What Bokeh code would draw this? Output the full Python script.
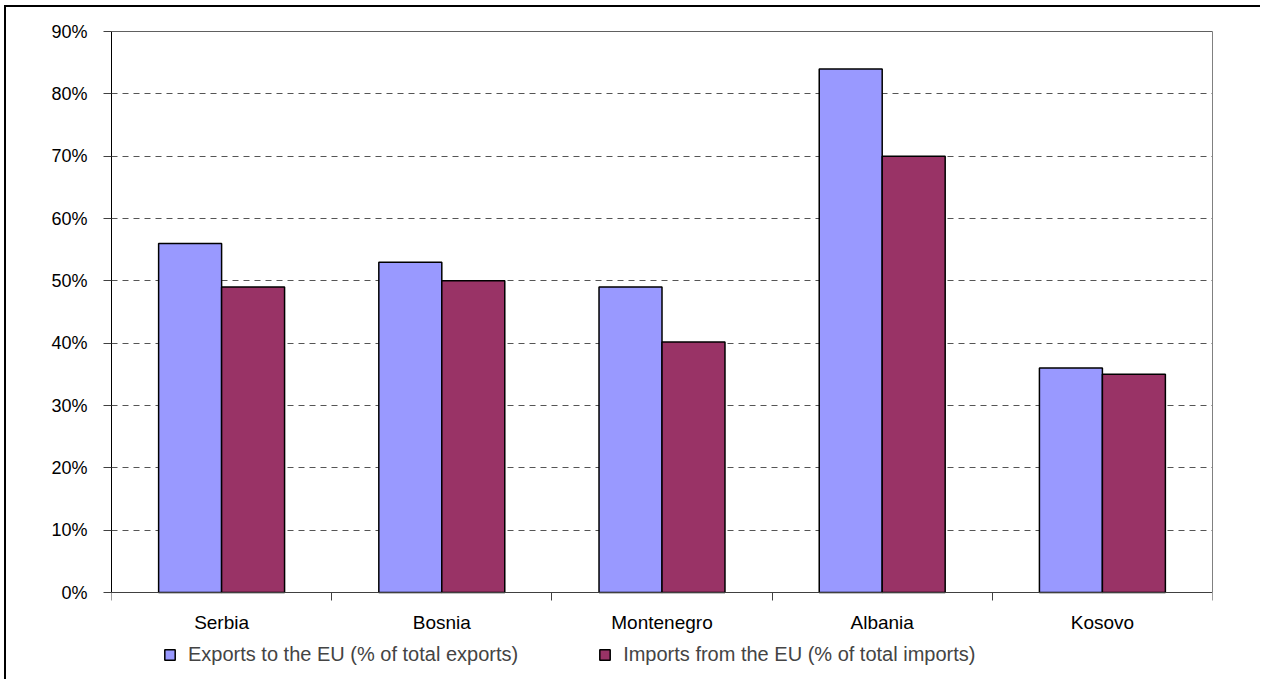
from bokeh.plotting import figure
from bokeh.models import FixedTicker, Legend, LegendItem, ColumnDataSource, Range1d, LinearAxis
from bokeh.embed import file_html
from bokeh.resources import INLINE

countries = ["Serbia", "Bosnia", "Montenegro", "Albania", "Kosovo"]
exports = [56, 53, 49, 84, 36]
imports = [49, 50, 40.2, 70, 35]
y_ticks = [0, 10, 20, 30, 40, 50, 60, 70, 80, 90]
y_labels = ["0%", "10%", "20%", "30%", "40%", "50%", "60%", "70%", "80%", "90%"]
series_names = ["Exports to the EU (% of total exports)", "Imports from the EU (% of total imports)"]
colors = ["#9999FF", "#993366"]

# layout (pixels)
W, H = 1256, 674
TOP, BOTTOM = 24, 6
PLOT_PX = 561          # pixel height of 0..90
ZERO_Y = 585           # canvas y of the 0 line
frame_h = H - TOP - BOTTOM
y_min = -(TOP + frame_h - ZERO_Y) * 90.0 / PLOT_PX

BAR_W = 0.286
idx = list(range(len(countries)))
src_e = ColumnDataSource(dict(x=[i + 0.5 - BAR_W / 2 for i in idx], top=exports))
src_i = ColumnDataSource(dict(x=[i + 0.5 + BAR_W / 2 for i in idx], top=imports))

p = figure(width=W, height=H, output_backend="svg", toolbar_location=None,
           x_range=Range1d(0, len(countries)), y_range=Range1d(y_min, 90),
           min_border_left=105, min_border_right=50, min_border_top=TOP, min_border_bottom=BOTTOM)
p.styles = {"border-left": "2px solid black", "border-top": "2px solid black",
            "margin-left": "4px", "margin-top": "5px"}
p.background_fill_color = "white"
p.border_fill_color = "white"
p.outline_line_color = None

r_e = p.vbar(x="x", top="top", bottom=0, width=BAR_W, source=src_e, fill_color=colors[0],
             line_color="black", line_width=1.5)
r_i = p.vbar(x="x", top="top", bottom=0, width=BAR_W, source=src_i, fill_color=colors[1],
             line_color="black", line_width=1.5)

# y axis
p.yaxis.bounds = (0, 90)
p.yaxis.ticker = FixedTicker(ticks=y_ticks)
p.yaxis.major_label_overrides = {t: l for t, l in zip(y_ticks, y_labels)}
p.yaxis.major_tick_out = 8
p.yaxis.major_tick_in = 0
p.yaxis.minor_tick_out = 0
p.yaxis.minor_tick_in = 0
p.yaxis.axis_line_color = "black"
p.yaxis.major_tick_line_color = "#404040"
p.yaxis.major_label_text_font = "Liberation Sans"
p.yaxis.major_label_text_font_size = "18px"
p.yaxis.major_label_text_color = "black"
p.yaxis.major_label_standoff = 16

# x axis at y=0: ticks at category boundaries, labels at centers
centers = [i + 0.5 for i in idx]
bounds = list(range(len(countries) + 1))
p.xaxis.fixed_location = 0
p.xaxis.ticker = FixedTicker(ticks=centers, minor_ticks=bounds)
p.xaxis.major_label_overrides = {c: n for c, n in zip(centers, countries)}
p.xaxis.major_tick_out = 0
p.xaxis.major_tick_in = 0
p.xaxis.minor_tick_out = 8
p.xaxis.minor_tick_in = 0
p.xaxis.minor_tick_line_color = "#404040"
p.xaxis.axis_line_color = "#404040"
p.xaxis.major_label_text_font = "Liberation Sans"
p.xaxis.major_label_text_font_size = "19px"
p.xaxis.major_label_text_color = "black"
p.xaxis.major_label_standoff = 11

# plot-area border (top and right)
top_axis = LinearAxis(ticker=FixedTicker(ticks=[]), axis_line_color="#606060",
                      major_tick_out=0, major_tick_in=0, minor_tick_out=0, minor_tick_in=0,
                      major_label_text_font_size="0px")
right_axis = LinearAxis(ticker=FixedTicker(ticks=[]), bounds=(0, 90), axis_line_color="#808080",
                        major_tick_out=0, major_tick_in=0, minor_tick_out=0, minor_tick_in=0,
                        major_label_text_font_size="0px")
p.add_layout(top_axis, "above")
p.add_layout(right_axis, "right")

p.xgrid.visible = False
p.ygrid.ticker = FixedTicker(ticks=y_ticks[1:-1])
p.ygrid.grid_line_color = "#555555"
p.ygrid.grid_line_dash = "6 5"
p.ygrid.grid_line_width = 1

legend = Legend(items=[LegendItem(label=series_names[0], renderers=[r_e]),
                       LegendItem(label=series_names[1], renderers=[r_i])],
                orientation="horizontal", location=(52, 9),
                glyph_width=13, glyph_height=13, label_text_font="Liberation Sans",
                label_text_font_size="20px", label_height=20, padding=0, margin=0,
                spacing=80, border_line_color=None, background_fill_alpha=0,
                label_standoff=12)
p.add_layout(legend, "center")

open("out.html", "w").write(file_html(p, INLINE))
